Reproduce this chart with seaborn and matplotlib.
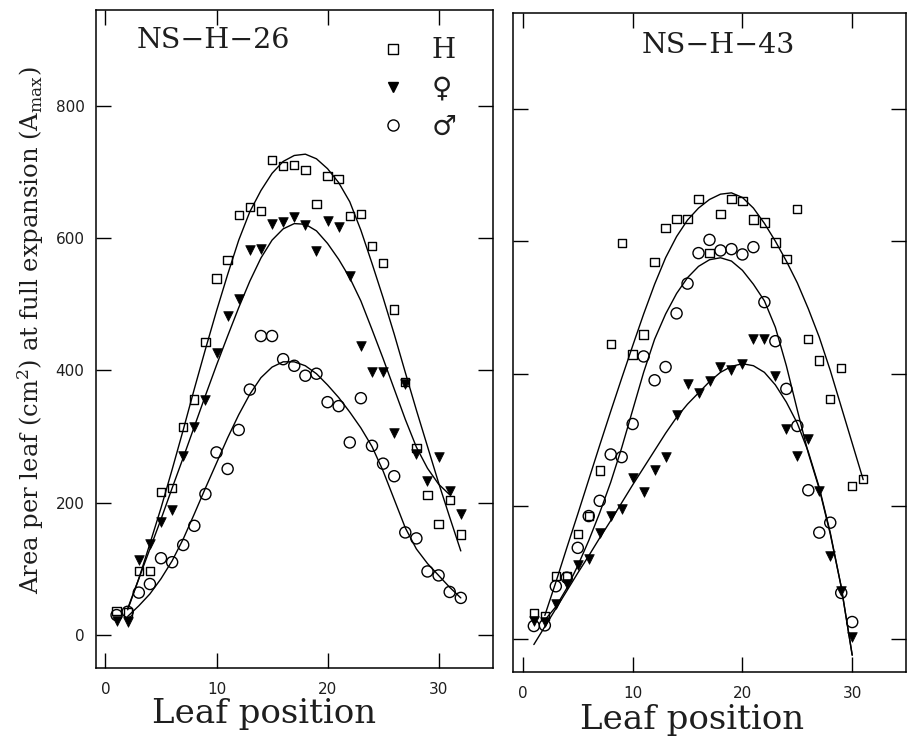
import matplotlib
matplotlib.use("Agg")
import matplotlib.pyplot as plt
import seaborn as sns
import pandas as pd
from matplotlib.lines import Line2D

# ---------------- data ----------------
# Panel NS-H-26
leaf_26 = [1, 2, 3, 4, 5, 6, 7, 8, 9, 10, 11, 12, 13, 14, 15, 16,
           17, 18, 19, 20, 21, 22, 23, 24, 25, 26, 27, 28, 29, 30, 31, 32]
herm_26 = [36, 34, 97, 97, 216, 222, 314, 356, 443, 539, 567, 635, 647, 641, 718, 709,
           711, 703, 652, 694, 689, 633, 637, 588, 562, 492, 382, 283, 212, 168, 204, 152]
fem_26 = [21, 20, 113, 137, 171, 189, 270, 315, 355, 427, 483, 508, 582, 583, 621, 625,
          632, 620, 581, 626, 617, 543, 437, 398, 397, 305, 379, 274, 233, 269, 218, 183]
male_26 = [30, 35, 64, 77, 116, 110, 136, 165, 213, 276, 251, 310, 371, 452, 452, 417,
           407, 392, 395, 352, 346, 291, 358, 286, 259, 240, 155, 146, 96, 90, 65, 56]

# fitted curves, NS-H-26
fit_x_h26 = [2, 3, 4, 5, 6, 7, 8, 9, 10, 11, 12, 13, 14, 15, 16, 17,
             18, 19, 20, 21, 22, 23, 24, 25, 26, 27, 28, 29, 30, 31, 32]
fit_h26 = [40, 85, 138, 192, 250, 310, 372, 432, 490, 545, 597, 640, 672, 698, 716, 725,
           727, 720, 705, 684, 655, 612, 562, 510, 455, 397, 340, 285, 230, 178, 127]
fit_x_f26 = [2, 3, 4, 5, 6, 7, 8, 9, 10, 11, 12, 13, 14, 15, 16, 17,
             18, 19, 20, 21, 22, 23, 24, 25, 26, 27, 28, 29, 30, 31]
fit_f26 = [38, 85, 130, 175, 222, 268, 315, 362, 408, 452, 495, 535, 570, 597, 614, 622,
           621, 611, 592, 568, 540, 505, 462, 418, 372, 326, 284, 252, 228, 212]
fit_x_m26 = [2, 3, 4, 5, 6, 7, 8, 9, 10, 11, 12, 13, 14, 15, 16, 17,
             18, 19, 20, 21, 22, 23, 24, 25, 26, 27, 28, 29, 30, 31, 32]
fit_m26 = [28, 44, 62, 85, 112, 145, 183, 222, 260, 298, 333, 364, 389, 405, 413, 413,
           407, 395, 378, 359, 337, 313, 285, 248, 205, 162, 130, 108, 90, 72, 56]

# Panel NS-H-43
leaf_43_h = [1, 2, 3, 4, 5, 6, 7, 8, 9, 10, 11, 12, 13, 14, 15, 16,
             17, 18, 19, 20, 21, 22, 23, 24, 25, 26, 27, 28, 29, 30, 31]
herm_43 = [39, 34, 94, 94, 158, 185, 254, 445, 597, 429, 459, 569, 620, 634, 634, 664,
           582, 641, 664, 661, 633, 628, 598, 573, 649, 452, 420, 362, 409, 230, 241]
leaf_43 = [1, 2, 3, 4, 5, 6, 7, 8, 9, 10, 11, 12, 13, 14, 15, 16,
           17, 18, 19, 20, 21, 22, 23, 24, 25, 26, 27, 28, 29, 30]
fem_43 = [27, 25, 52, 82, 111, 120, 159, 185, 196, 243, 222, 255, 274, 337, 384, 371,
          389, 410, 405, 414, 452, 452, 397, 316, 276, 301, 223, 125, 72, 2]
male_43 = [19, 20, 79, 92, 137, 185, 208, 278, 274, 324, 426, 390, 410, 491, 536, 582,
           602, 586, 588, 580, 591, 508, 449, 377, 321, 224, 160, 175, 69, 25]

# fitted curves, NS-H-43
fit_x_h43 = [2, 3, 4, 5, 6, 7, 8, 9, 10, 11, 12, 13, 14, 15, 16, 17,
             18, 19, 20, 21, 22, 23, 24, 25, 26, 27, 28, 29, 30, 31]
fit_h43 = [35, 85, 137, 188, 240, 292, 343, 393, 442, 490, 535, 575, 607, 632, 650, 663,
           671, 673, 666, 650, 627, 600, 570, 537, 498, 455, 405, 350, 295, 240]
fit_x_f43 = [1, 2, 3, 4, 5, 6, 7, 8, 9, 10, 11, 12, 13, 14, 15, 16,
             17, 18, 19, 20, 21, 22, 23, 24, 25, 26, 27, 28, 29, 30]
fit_f43 = [-9, 18, 45, 72, 99, 125, 152, 178, 205, 232, 258, 284, 310, 334, 354, 371,
           388, 402, 411, 415, 412, 402, 383, 357, 325, 282, 228, 160, 78, -25]
fit_x_m43 = [2, 3, 4, 5, 6, 7, 8, 9, 10, 11, 12, 13, 14, 15, 16, 17,
             18, 19, 20, 21, 22, 23, 24, 25, 26, 27, 28, 29, 30]
fit_m43 = [28, 48, 76, 110, 148, 190, 236, 288, 345, 402, 452, 490, 521, 545, 562, 572,
           575, 570, 556, 535, 510, 470, 412, 345, 280, 226, 158, 78, -25]

titles = ["NS\u2212H\u221226", "NS\u2212H\u221243"]
legend_labels = ["H", "\u2640", "\u2642"]
x_ticks = [0, 10, 20, 30]
y_ticks = [0, 200, 400, 600, 800]

# ---------------- styling ----------------
sns.set_theme(style="ticks")
plt.rcParams["font.family"] = ["DejaVu Sans"]
plt.rcParams["mathtext.fontset"] = "dejavuserif"
SERIF = ["DejaVu Serif", "DejaVu Sans"]
INK = "#1e1e1e"

W, H = 907, 749
fig = plt.figure(figsize=(W / 100, H / 100), dpi=100)
fig.patch.set_facecolor("white")

ax1 = fig.add_axes([95.5 / W, 1 - 668 / H, 397.5 / W, 658 / H])
ax2 = fig.add_axes([513 / W, 1 - 671.7 / H, 393 / W, 659 / H])

mk_open_sq = dict(marker="s", s=36, facecolor="none", edgecolor="black", linewidth=1.0)
mk_tri = dict(marker="v", s=48, color="black", edgecolor="black", linewidth=0.5)
mk_open_c = dict(marker="o", s=64, facecolor="none", edgecolor="black", linewidth=1.0)

panels = [
    (ax1, (leaf_26, herm_26), (leaf_26, fem_26), (leaf_26, male_26),
     [(fit_x_h26, fit_h26), (fit_x_f26, fit_f26), (fit_x_m26, fit_m26)]),
    (ax2, (leaf_43_h, herm_43), (leaf_43, fem_43), (leaf_43, male_43),
     [(fit_x_h43, fit_h43), (fit_x_f43, fit_f43), (fit_x_m43, fit_m43)]),
]

for i, (ax, hs, fs, ms, fits) in enumerate(panels):
    for fx, fy in fits:
        sns.lineplot(x=fx, y=fy, ax=ax, color="black", linewidth=1.0, sort=False)
    sns.scatterplot(x=hs[0], y=hs[1], ax=ax, zorder=3, **mk_open_sq)
    sns.scatterplot(x=fs[0], y=fs[1], ax=ax, zorder=3, **mk_tri)
    sns.scatterplot(x=ms[0], y=ms[1], ax=ax, zorder=3, **mk_open_c)

    ax.set_xlim(-0.9, 34.9)
    ax.set_ylim(-50, 945)
    ax.set_xticks(x_ticks)
    ax.set_yticks(y_ticks)
    ax.tick_params(direction="in", length=11, width=1.0, color="black",
                   top=True, right=True, labelsize=11, labelcolor=INK)
    ax.tick_params(axis="x", pad=10)
    ax.tick_params(axis="y", pad=8)
    for sp in ax.spines.values():
        sp.set_visible(True)
        sp.set_linewidth(1.1)
        sp.set_color("black")
    ax.set_facecolor("white")
    ax.set_xlabel("Leaf position", fontsize=24.5, family=SERIF, color=INK)
    ax.set_ylabel("")

ax1.xaxis.set_label_coords(0.424, -0.046)
ax2.xaxis.set_label_coords(0.455, -0.049)
ax2.tick_params(axis="y", labelleft=False)

ax1.text(0.104, 0.953, titles[0], transform=ax1.transAxes, fontsize=20.5,
         family=SERIF, va="center", ha="left", color=INK)
ax2.text(0.327, 0.9495, titles[1], transform=ax2.transAxes, fontsize=20.5,
         family=SERIF, va="center", ha="left", color=INK)

ax1.set_ylabel(r"Area per leaf (cm$^{2}$) at full expansion (A$_{\rm max}$)",
               fontsize=17.5, family=SERIF, color=INK)
ax1.yaxis.set_label_coords(-0.125, 0.513)

handles = [
    Line2D([], [], ls="", marker="s", ms=6.5, mfc="none", mec="black", mew=1.0),
    Line2D([], [], ls="", marker="v", ms=7.5, mfc="black", mec="black"),
    Line2D([], [], ls="", marker="o", ms=8, mfc="none", mec="black", mew=1.0),
]
leg = ax1.legend(handles, legend_labels, loc="upper left",
                 bbox_to_anchor=(0.665, 0.988), frameon=False,
                 prop={"family": SERIF, "size": 20}, handlelength=1.0,
                 handletextpad=0.88, labelspacing=0.4, borderpad=0.2)
for t in leg.get_texts():
    t.set_color(INK)

fig.savefig("out.png", dpi=100, facecolor="white")
